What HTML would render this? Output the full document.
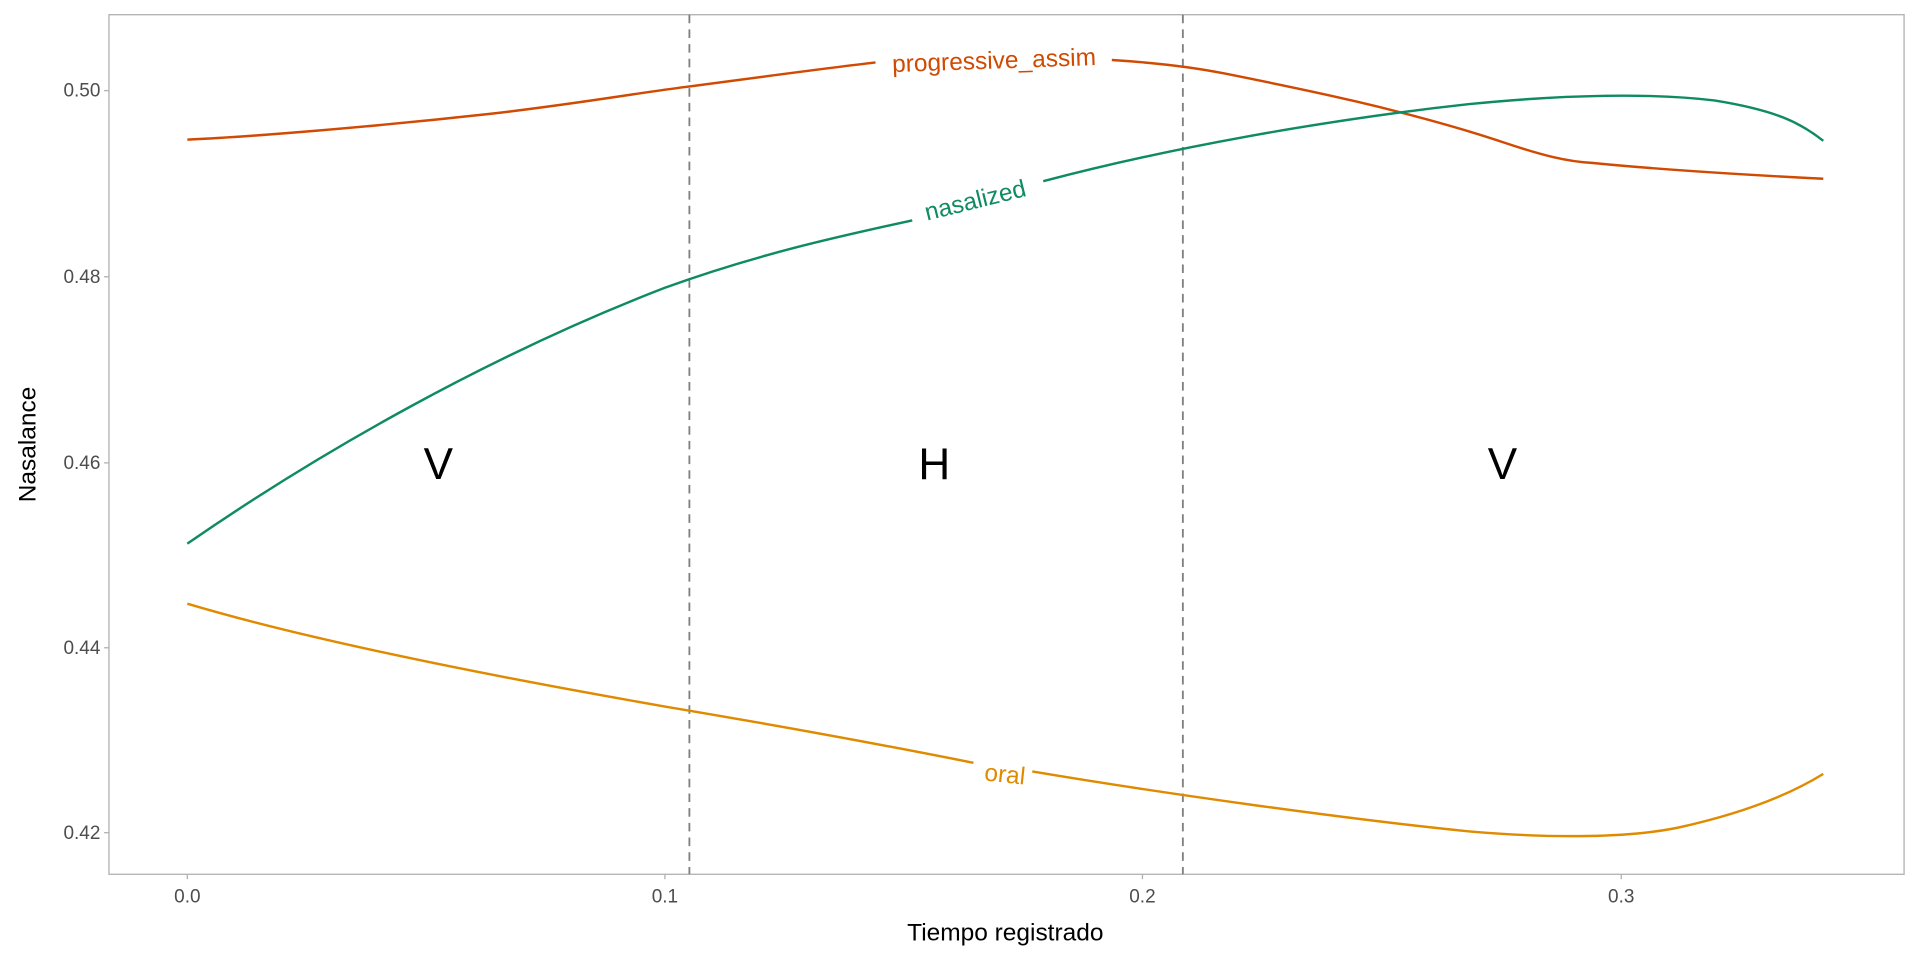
<!DOCTYPE html>
<html><head><meta charset="utf-8"><style>html,body{margin:0;padding:0;background:#fff}svg{display:block}</style></head>
<body>
<svg width="1920" height="960" viewBox="0 0 1568 784" xmlns="http://www.w3.org/2000/svg" font-family="Liberation Sans, sans-serif">
<rect x="0" y="0" width="1568" height="784" fill="#fff"/>
<rect x="89" y="12" width="1466" height="702" fill="none" stroke="#b3b3b3" stroke-width="1.1"/>
<g stroke="#b3b3b3" stroke-width="1.1">
<line x1="85" y1="74" x2="89" y2="74"/><line x1="85" y1="226" x2="89" y2="226"/><line x1="85" y1="378" x2="89" y2="378"/><line x1="85" y1="529" x2="89" y2="529"/><line x1="85" y1="680" x2="89" y2="680"/>
<line x1="153" y1="714" x2="153" y2="718"/><line x1="543" y1="714" x2="543" y2="718"/><line x1="933" y1="714" x2="933" y2="718"/><line x1="1324" y1="714" x2="1324" y2="718"/>
</g>
<g fill="#4d4d4d" font-size="15.5" text-anchor="end">
<text x="82" y="79">0.50</text><text x="82" y="231">0.48</text><text x="82" y="383">0.46</text><text x="82" y="534">0.44</text><text x="82" y="685">0.42</text>
</g>
<g fill="#4d4d4d" font-size="15.5" text-anchor="middle">
<text x="153" y="737">0.0</text><text x="543" y="737">0.1</text><text x="933" y="737">0.2</text><text x="1324" y="737">0.3</text>
</g>
<text x="821" y="768" font-size="20" text-anchor="middle" fill="#000">Tiempo registrado</text>
<text transform="translate(29,363) rotate(-90)" font-size="20" text-anchor="middle" fill="#000">Nasalance</text>
<g stroke="#808080" stroke-width="1.5" stroke-dasharray="7,5">
<line x1="563" y1="12" x2="563" y2="714"/><line x1="966" y1="12" x2="966" y2="714"/>
</g>
<g fill="none" stroke-width="2">
<path stroke="#D14A02" d="M153,114 C200,112 300,104 400,93 C470,85 520,76 560,71 C620,63 680,55 715,51"/>
<path stroke="#D14A02" d="M908,49 C940,51 970,54 1000,60 C1060,72 1150,90 1230,117 C1260,127 1280,132 1300,133 C1360,139 1430,143 1489,146"/>
<path stroke="#0F8B62" d="M153,444 C260,370 400,290 543,235 C620,207 690,192 745,180"/>
<path stroke="#0F8B62" d="M852,148 C950,122 1080,98 1200,85 C1280,77 1350,76 1400,82 C1450,90 1470,100 1489,115"/>
<path stroke="#E08A00" d="M153,493 C250,522 400,552 543,577 C650,595 740,612 795,623"/>
<path stroke="#E08A00" d="M843,630 C950,648 1100,669 1200,679 C1270,685 1330,684 1370,676 C1420,665 1460,650 1489,632"/>
</g>
<text transform="translate(812,56) rotate(-2)" font-size="20" text-anchor="middle" fill="#D14A02">progressive_assim</text>
<text transform="translate(798,170) rotate(-14)" font-size="20" text-anchor="middle" fill="#0F8B62">nasalized</text>
<text transform="translate(820,639) rotate(6)" font-size="20" text-anchor="middle" fill="#E08A00">oral</text>
<g font-size="36" text-anchor="middle" fill="#000">
<text x="358" y="391">V</text><text x="763" y="391">H</text><text x="1227" y="391">V</text>
</g>
</svg>
</body></html>
